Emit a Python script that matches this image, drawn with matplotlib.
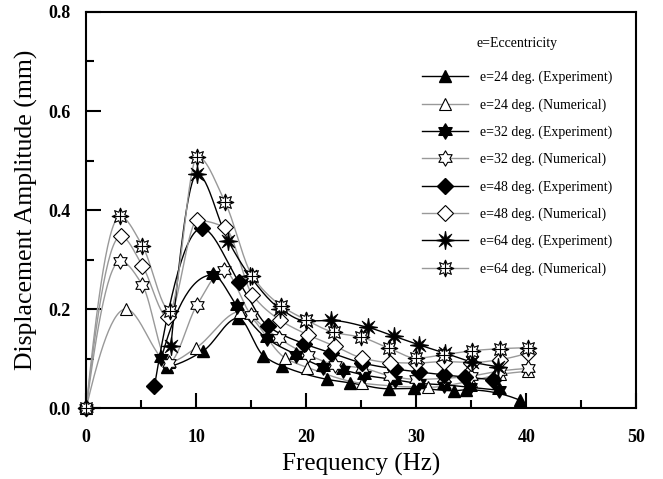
import numpy as np
import matplotlib
matplotlib.use("Agg")
import matplotlib.pyplot as plt
from matplotlib.lines import Line2D
from matplotlib.path import Path

# ---------------- data ----------------
e24_exp_x = [7.35, 10.6, 13.8, 16.1, 17.8, 21.9, 24.0, 27.5, 29.8, 33.4, 34.5, 39.4]
e24_exp_y = [0.083, 0.115, 0.182, 0.106, 0.085, 0.058, 0.051, 0.039, 0.040, 0.035, 0.037, 0.016]

e24_num_x = [0, 3.6, 7.5, 10.0, 14.0, 18.1, 20.1, 25.1, 31.1, 35.0, 37.6, 40.1]
e24_num_y = [0.0, 0.200, 0.093, 0.122, 0.195, 0.101, 0.082, 0.050, 0.042, 0.055, 0.068, 0.074]

e32_exp_x = [6.84, 11.5, 13.7, 16.4, 19.1, 21.5, 23.3, 25.2, 28.1, 30.2, 32.5, 34.9, 37.55]
e32_exp_y = [0.102, 0.269, 0.207, 0.141, 0.108, 0.084, 0.077, 0.067, 0.057, 0.050, 0.047, 0.042, 0.036]

e32_num_x = [0, 3.1, 5.1, 7.5, 10.06, 12.5, 15.0, 17.5, 20.15, 22.6, 25.1, 27.6, 30.0, 32.5, 35.0, 37.6, 40.1]
e32_num_y = [0.0, 0.297, 0.249, 0.092, 0.208, 0.278, 0.188, 0.141, 0.108, 0.088, 0.081, 0.065, 0.058, 0.060, 0.065, 0.075, 0.080]

e48_exp_x = [6.2, 10.5, 13.9, 16.5, 19.8, 22.2, 25.1, 28.05, 30.2, 32.5, 34.4, 37.0]
e48_exp_y = [0.044, 0.363, 0.254, 0.166, 0.130, 0.112, 0.091, 0.079, 0.073, 0.067, 0.063, 0.057]

e48_num_x = [0, 3.14, 5.1, 7.44, 10.1, 12.6, 15.1, 17.6, 20.15, 22.6, 25.1, 27.6, 30.0, 32.5, 35.0, 37.6, 40.1]
e48_num_y = [0.0, 0.347, 0.288, 0.183, 0.379, 0.365, 0.229, 0.178, 0.148, 0.125, 0.101, 0.092, 0.091, 0.094, 0.092, 0.098, 0.111]

e64_exp_x = [7.7, 10.1, 12.9, 14.9, 17.6, 20.0, 22.2, 25.6, 28.0, 30.2, 32.6, 35.1, 37.4]
e64_exp_y = [0.126, 0.473, 0.338, 0.266, 0.201, 0.176, 0.177, 0.163, 0.145, 0.128, 0.111, 0.093, 0.084]

e64_num_x = [0, 3.08, 5.1, 7.6, 10.1, 12.6, 15.1, 17.7, 20.0, 22.5, 25.0, 27.5, 30.0, 32.5, 35.1, 37.6, 40.1]
e64_num_y = [0.0, 0.387, 0.328, 0.197, 0.508, 0.417, 0.267, 0.207, 0.178, 0.153, 0.143, 0.121, 0.101, 0.108, 0.116, 0.120, 0.122]

labels = ["e=24 deg. (Experiment)", "e=24 deg. (Numerical)",
          "e=32 deg. (Experiment)", "e=32 deg. (Numerical)",
          "e=48 deg. (Experiment)", "e=48 deg. (Numerical)",
          "e=64 deg. (Experiment)", "e=64 deg. (Numerical)"]
legend_title = "e=Eccentricity"
x_ticks = [0, 10, 20, 30, 40, 50]
y_ticks = [0.0, 0.2, 0.4, 0.6, 0.8]

# ---------------- helpers ----------------
def pchip_curve(x, y, n=30):
    x = np.asarray(x, float)
    y = np.asarray(y, float)
    h = np.diff(x)
    dl = np.diff(y) / h
    m = len(x)
    d = np.zeros(m)
    for k in range(1, m - 1):
        if dl[k - 1] * dl[k] > 0:
            w1 = 2 * h[k] + h[k - 1]
            w2 = h[k] + 2 * h[k - 1]
            d[k] = (w1 + w2) / (w1 / dl[k - 1] + w2 / dl[k])
    def end(h0, h1, d0, d1):
        v = ((2 * h0 + h1) * d0 - h0 * d1) / (h0 + h1)
        if np.sign(v) != np.sign(d0):
            v = 0.0
        elif np.sign(d0) != np.sign(d1) and abs(v) > abs(3 * d0):
            v = 3 * d0
        return v
    if m > 2:
        d[0] = end(h[0], h[1], dl[0], dl[1])
        d[-1] = end(h[-1], h[-2], dl[-1], dl[-2])
    else:
        d[:] = dl[0]
    xs, ys = [], []
    for k in range(m - 1):
        t = np.linspace(0, 1, n, endpoint=False)
        h00 = 2 * t ** 3 - 3 * t ** 2 + 1
        h10 = t ** 3 - 2 * t ** 2 + t
        h01 = -2 * t ** 3 + 3 * t ** 2
        h11 = t ** 3 - t ** 2
        xs.append(x[k] + t * h[k])
        ys.append(h00 * y[k] + h10 * h[k] * d[k] + h01 * y[k + 1] + h11 * h[k] * d[k + 1])
    xs.append([x[-1]])
    ys.append([y[-1]])
    return np.concatenate(xs), np.concatenate(ys)

def star_path(n, inner):
    ang = np.arange(2 * n) * np.pi / n + np.pi / 2
    r = np.where(np.arange(2 * n) % 2 == 0, 1.0, inner)
    v = np.column_stack([r * np.cos(ang), r * np.sin(ang)])
    v = np.vstack([v, v[:1]])
    codes = [Path.MOVETO] + [Path.LINETO] * (len(v) - 2) + [Path.CLOSEPOLY]
    return Path(v, codes)

HEX = star_path(6, 0.58)
SPIKE = star_path(8, 0.33)
OPEN8 = star_path(8, 0.55)

plt.rcParams['font.family'] = ['Liberation Serif', 'DejaVu Serif']

fig = plt.figure(figsize=(6.63, 4.79), dpi=100)
ax = fig.add_axes([0.130, 0.148, 0.830, 0.827])

BLACK = 'black'
GRAY = '#999999'

series = [
    (e24_exp_x, e24_exp_y, BLACK, [dict(marker='^', ms=9, mfc='black', mec='black')]),
    (e24_num_x, e24_num_y, GRAY, [dict(marker='^', ms=9, mfc='white', mec='black', mew=0.8)]),
    (e32_exp_x, e32_exp_y, BLACK, [dict(marker=HEX, ms=11, mfc='black', mec='black')]),
    (e32_num_x, e32_num_y, GRAY, [dict(marker=HEX, ms=11, mfc='white', mec='black', mew=0.8)]),
    (e48_exp_x, e48_exp_y, BLACK, [dict(marker='D', ms=8, mfc='black', mec='black')]),
    (e48_num_x, e48_num_y, GRAY, [dict(marker='D', ms=8, mfc='white', mec='black', mew=0.8)]),
    (e64_exp_x, e64_exp_y, BLACK, [dict(marker=SPIKE, ms=13, mfc='black', mec='black', mew=0.6),
                                   dict(marker='+', ms=13, mec='black', mew=1.0)]),
    (e64_num_x, e64_num_y, GRAY, [dict(marker=OPEN8, ms=12, mfc='white', mec='black', mew=0.8),
                                  dict(marker='+', ms=12, mec='black', mew=0.8)]),
]

handles = []
for i, (x, y, col, mks) in enumerate(series):
    sx, sy = pchip_curve(x, y)
    ax.plot(sx, sy, color=col, lw=1.0, zorder=2 + i * 0.01, clip_on=False)
for i, (x, y, col, mks) in enumerate(series):
    for m in mks:
        ax.plot(x, y, linestyle='none', clip_on=False, zorder=3 + i * 0.01, **m)
    h = [Line2D([], [], color=col, lw=1.0, **mks[0])]
    for m in mks[1:]:
        h.append(Line2D([], [], linestyle='none', **m))
    handles.append(tuple(h))

ax.set_xlim(0, 50)
ax.set_ylim(0, 0.8)
ax.set_xticks(x_ticks)
ax.set_yticks(y_ticks)
ax.set_xticks(np.arange(5, 50, 10), minor=True)
ax.set_yticks(np.arange(0.1, 0.8, 0.2), minor=True)
ax.set_yticklabels([f"{v:.1f}" for v in y_ticks])
ax.tick_params(which='major', direction='in', length=11, width=1.5, labelsize=13)
ax.tick_params(axis='x', which='major', pad=15)
ax.tick_params(axis='y', which='major', pad=11)
ax.tick_params(which='minor', direction='in', length=6, width=1.5)
for lab in ax.get_xticklabels() + ax.get_yticklabels():
    lab.set_fontweight('bold')
for sp in ax.spines.values():
    sp.set_linewidth(1.5)

ax.set_xlabel("Frequency (Hz)", fontsize=18, labelpad=5)
ax.set_ylabel("Displacement Amplitude (mm)", fontsize=18.5, labelpad=8)

leg = ax.legend(handles, labels, title=legend_title, loc='upper left',
                bbox_to_anchor=(0.610, 0.937), frameon=False, fontsize=10,
                title_fontsize=10, handlelength=3.3, handletextpad=0.85,
                labelspacing=1.0, borderpad=0, borderaxespad=0)
leg._legend_box.sep = 15

fig.savefig("out.png", dpi=100)
